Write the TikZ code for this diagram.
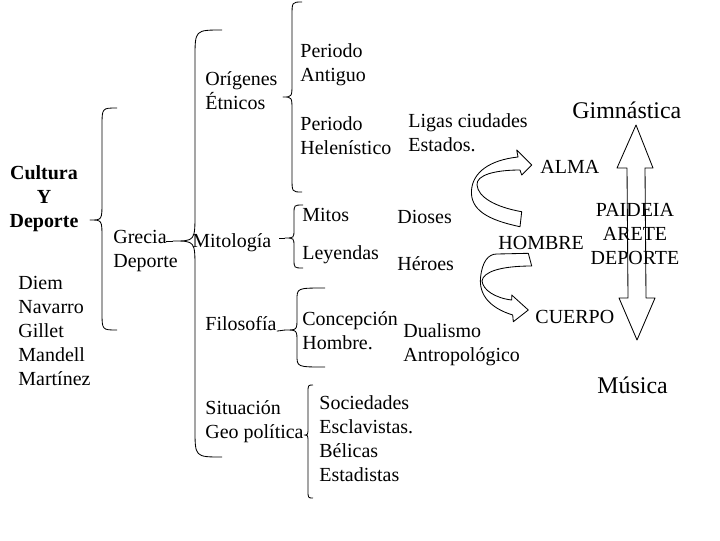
\documentclass[tikz,border=0pt]{standalone}
\usepackage{fontspec}
\setmainfont{Liberation Serif}
\usetikzlibrary{positioning}
\usetikzlibrary{calc}

% left curly brace: vertical x, tip x, end x, top y, tip y, bottom y, radius
\newcommand{\curlybrace}[7]{%
  \draw (#3,#4) .. controls (#1,#4) .. (#1,#4+#7) -- (#1,#5-#7)
        .. controls (#1,#5) .. (#2,#5) .. controls (#1,#5) .. (#1,#5+#7)
        -- (#1,#6-#7) .. controls (#1,#6) .. (#3,#6);}

\begin{document}
\begin{tikzpicture}[x=0.025cm,y=-0.025cm,line width=0.6pt,line join=round]
	\tikzstyle{txt}=[inner sep=0,anchor=north west,align=left,
	                 font=\fontsize{14.2}{17.1}\selectfont]
	\tikzstyle{big}=[inner sep=0,anchor=base west,font=\fontsize{17}{20}\selectfont]
	
	\useasboundingbox (0,0) rectangle (720,540);
	
	\node[txt]          (PerAnt)     at (300,43)  {Periodo\\Antiguo};
	\node[txt]          (Origenes)   at (205,71)  {Orígenes\\Étnicos};
	\node[txt]          (PerHel)     at (300,116) {Periodo\\Helenístico};
	\node[txt]          (Ligas)      at (408,113) {Ligas ciudades\\Estados.};
	\node[big]          (Gimnastica) at (572,118) {Gimnástica};
	\node[txt,anchor=north,align=center,font=\fontsize{14.2}{17.1}\selectfont\bfseries]
	                    (Cultura)    at (44,165)  {Cultura\\Y\\Deporte};
	\node[txt]          (Alma)       at (540,160) {ALMA};
	\node[txt]          (Mitos)      at (302,208) {Mitos};
	\node[txt]          (Leyendas)   at (302,245) {Leyendas};
	\node[txt]          (Dioses)     at (397,210) {Dioses};
	\node[txt]          (Heroes)     at (397,256) {Héroes};
	\node[txt]          (Mitologia)  at (192,233) {Mitología};
	\node[txt]          (Grecia)     at (113,230) {Grecia\\Deporte};
	\node[txt,anchor=north,align=center]
	                    (Paideia)    at (635,203) {PAIDEIA\\ARETE\\DEPORTE};
	\node[txt]          (Hombre)     at (498,236) {HOMBRE};
	\node[txt]          (Autores)    at (18,276)  {Diem\\Navarro\\Gillet\\Mandell\\Martínez};
	\node[txt]          (Cuerpo)     at (535,310) {CUERPO};
	\node[txt]          (Filosofia)  at (205,316) {Filosofía};
	\node[txt]          (Concepcion) at (302,311) {Concepción\\Hombre.};
	\node[txt]          (Dualismo)   at (403,323) {Dualismo\\Antropológico};
	\node[big]          (Musica)     at (597,393) {Música};
	\node[txt]          (Situacion)  at (205,400) {Situación\\Geo política};
	\node[txt]          (Sociedades) at (319,395) {Sociedades\\Esclavistas.\\Bélicas\\Estadistas};
	
	% braces
	\curlybrace{102}{90}{117}{108}{220}{330}{18}
	\curlybrace{195}{173}{222}{30}{241}{457}{28}
	\curlybrace{292}{283}{302}{2}{97}{192}{14}
	\curlybrace{294}{285}{303}{205}{238}{268}{9}
	\curlybrace{297}{285}{325}{288}{330}{367}{12}
	\curlybrace{308}{304}{313}{385}{435}{498}{8}
	
	\coordinate (tipGrecia) at (173,241);
	\coordinate (endGrecia) at (166,241);
	\coordinate (tipMito)   at (285,238);
	\coordinate (endMito)   at (279,238);
	\coordinate (tipFilo)   at (285,330);
	\draw (endGrecia) -- (tipGrecia);
	\draw (endMito) -- (tipMito);
	\draw (Filosofia.south east) -- (tipFilo);
	
	% double arrow
	\draw (636,125) -- (617,168) -- (627,168) -- (628,298) -- (619,298) -- (637,340)
	      -- (655,298) -- (646,298) -- (645,168) -- (653,168) -- cycle;
	
	% curved arrows
	\draw (520,226.7) .. controls (488,220) and (470,210) .. (471.5,190)
	      .. controls (473,172) and (490,160) .. (518,157) -- (516.7,150) -- (531.7,165)
	      -- (521.7,175) -- (520,170) .. controls (495,170) and (476,175) .. (477,185)
	      .. controls (478,197) and (495,207) .. (521.7,211.7) -- cycle;
	\draw (528.3,253.3) -- (531.7,266) .. controls (500,266) and (483,272) .. (482,281)
	      .. controls (483,290) and (495,298) .. (511.7,300) -- (511.7,295) -- (528.3,310)
	      -- (513.3,321.7) -- (512.7,315) .. controls (490,308) and (479,295) .. (480.5,278)
	      .. controls (482,262) and (488,254) .. (496.7,254) -- cycle;
\end{tikzpicture}
\end{document}
